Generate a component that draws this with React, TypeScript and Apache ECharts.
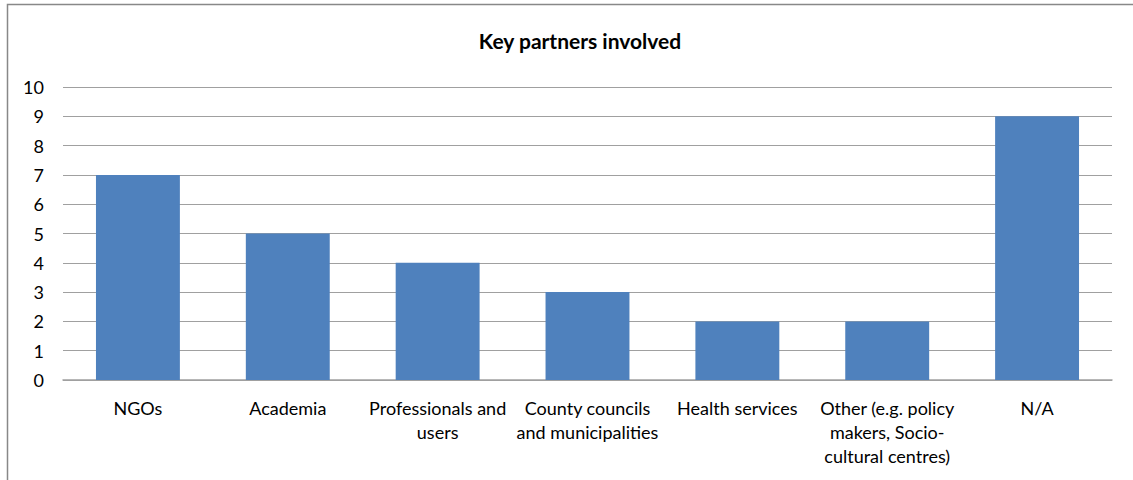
import React, { useEffect, useRef } from "react";
import * as echarts from "echarts";

const titleText = "Key partners involved";
const categories = [
  "NGOs",
  "Academia",
  "Professionals and\nusers",
  "County councils\nand municipalities",
  "Health services",
  "Other (e.g. policy\nmakers, Socio-\ncultural centres)",
  "N/A",
];
const values = [7, 5, 4, 3, 2, 2, 9];
const yMin = 0;
const yMax = 10;
const yStep = 1;

const FONT = "Lato, 'Open Sans', sans-serif";

export default function App() {
  const ref = useRef<HTMLDivElement>(null);
  useEffect(() => {
    if (!ref.current) return;
    const chart = echarts.init(ref.current, null, { renderer: "svg" });
    chart.setOption({
      animation: false,
      backgroundColor: "#ffffff",
      title: {
        text: titleText,
        left: 575,
        textAlign: "center",
        top: 25,
        textStyle: { fontFamily: FONT, fontSize: 21, fontWeight: "bold", color: "#000" },
      },
      graphic: [
        {
          type: "rect",
          shape: { x: 7.5, y: 4.5, width: 1200, height: 600 },
          style: { fill: "none", stroke: "#888888", lineWidth: 1.5 },
          silent: true,
        },
      ],
      grid: { left: 63, right: 21, top: 87, bottom: 100, containLabel: false },
      xAxis: {
        type: "category",
        data: categories,
        axisLine: { show: true, lineStyle: { color: "#a0a0a0", width: 1.5 } },
        axisTick: { show: false },
        axisLabel: {
          interval: 0,
          margin: 16,
          fontFamily: FONT,
          fontSize: 18,
          lineHeight: 24,
          color: "#000",
          align: "center",
        },
      },
      yAxis: {
        type: "value",
        min: yMin,
        max: yMax,
        interval: yStep,
        axisLine: { show: false },
        axisTick: { show: false },
        splitLine: { lineStyle: { color: "#a0a0a0", width: 1 } },
        axisLabel: { margin: 19, fontFamily: FONT, fontSize: 18, color: "#000" },
      },
      series: [
        {
          type: "bar",
          data: values,
          barWidth: "56%",
          itemStyle: { color: "#4F81BD" },
        },
      ],
    });
    return () => chart.dispose();
  }, []);
  return (
    <div
      ref={ref}
      style={{ position: "fixed", left: 0, top: 0, width: 1133, height: 480, background: "#fff" }}
    />
  );
}
